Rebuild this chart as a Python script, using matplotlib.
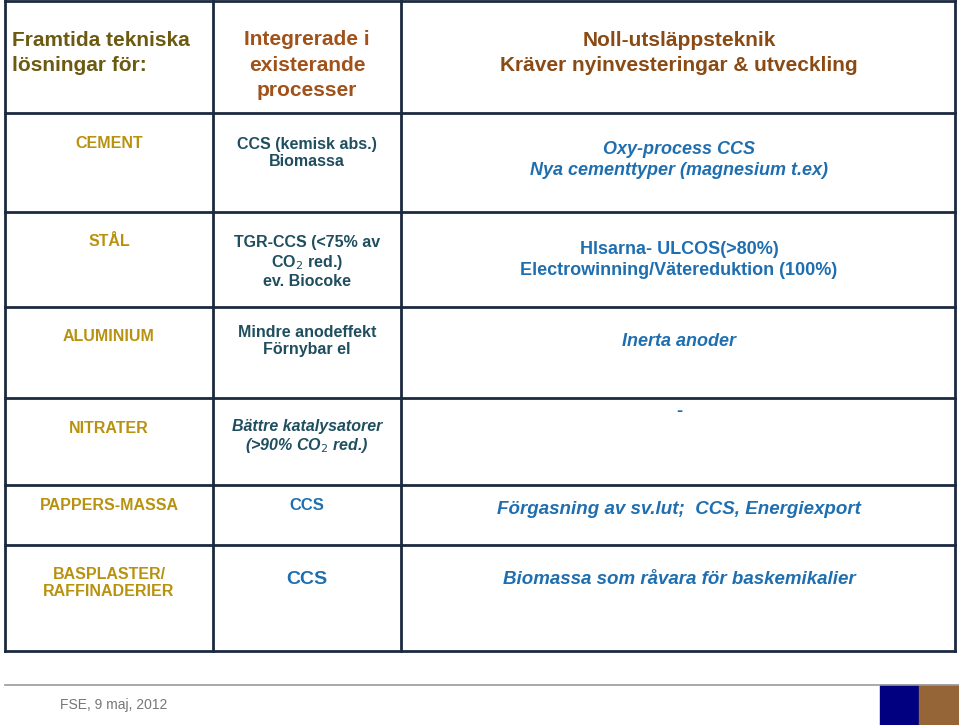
import matplotlib.pyplot as plt

# table content
row_labels = ["CEMENT", "STÅL", "ALUMINIUM", "NITRATER", "PAPPERS-MASSA", "BASPLASTER/\nRAFFINADERIER"]
integrated = ["CCS (kemisk abs.)\nBiomassa",
              "TGR-CCS (<75% av\nCO$_{2}$ red.)\nev. Biocoke",
              "Mindre anodeffekt\nFörnybar el",
              "Bättre katalysatorer\n(>90% CO$_{2}$ red.)",
              "CCS",
              "CCS"]
zero_emission = ["Oxy-process CCS\nNya cementtyper (magnesium t.ex)",
                 "Hlsarna- ULCOS(>80%)\nElectrowinning/Vätereduktion (100%)",
                 "Inerta anoder",
                 "-",
                 "Förgasning av sv.lut;  CCS, Energiexport",
                 "Biomassa som råvara för baskemikalier"]
headers = ["Framtida tekniska\nlösningar för:", "Integrerade i\nexisterande\nprocesser",
           "Noll-utsläppsteknik\nKräver nyinvesteringar & utveckling"]
footer = "FSE, 9 maj, 2012"

plt.rcParams["font.family"] = "Liberation Sans"
fig = plt.figure(figsize=(9.59, 7.25), dpi=100)
ax = fig.add_axes([0, 0, 1, 1])
ax.set_xlim(0, 959)
ax.set_ylim(725, 0)
ax.axis("off")

line_c = "#1c2a40"
cols = [5, 213, 401, 955]
rows = [1, 113, 212, 307, 398, 485, 545, 651]
for x in cols:
    ax.plot([x, x], [rows[0], rows[-1]], color=line_c, lw=2)
for y in rows:
    ax.plot([cols[0], cols[-1]], [y, y], color=line_c, lw=2)

# header
hdr = dict(family="Liberation Sans", weight="bold", fontsize=15, va="center", linespacing=1.45)
ax.text(12, 53, headers[0], color="#6b5a10", ha="left", **hdr)
ax.text(307, 65, headers[1], color="#a0521a", ha="center", **hdr)
ax.text(679, 53, headers[2], color="#8a4a14", ha="center", **hdr)

gold = "#b8920e"
teal = "#1f4e5f"
blue = "#1f6fb0"
label_y = [143, 241, 336, 428, 505, 583]
mid_y = [153, 262, 341, 437, 505, 579]
right_y = [160, 260, 341, 411, 510, 579]
mid_style = ["normal", "normal", "normal", "italic", "normal", "normal"]
mid_color = [teal, teal, teal, teal, blue, blue]
mid_size = [11.5, 11.5, 11.5, 11.5, 12, 14]
right_style = ["italic", "normal", "italic", "normal", "italic", "italic"]
right_size = [13, 13, 13, 13, 13.5, 13.5]
for i in range(len(row_labels)):
    ax.text(109, label_y[i], row_labels[i], color=gold, fontsize=11.5, weight="bold",
            ha="center", va="center", linespacing=1.2)
    ax.text(307, mid_y[i], integrated[i], color=mid_color[i], fontsize=mid_size[i], weight="bold",
            style=mid_style[i], ha="center", va="center", linespacing=1.2)
    ax.text(679, right_y[i], zero_emission[i], color=blue, fontsize=right_size[i], weight="bold",
            style=right_style[i], ha="center", va="center", linespacing=1.3)

# footer
ax.plot([5, 959], [685, 685], color="#999999", lw=1.2)
ax.text(60, 705, footer, color="#777777", fontsize=10, ha="left", va="center")
ax.add_patch(plt.Rectangle((880, 685), 39, 40, color="#000080"))
ax.add_patch(plt.Rectangle((919, 685), 40, 40, color="#956437"))

fig.savefig("out.png", dpi=100)
